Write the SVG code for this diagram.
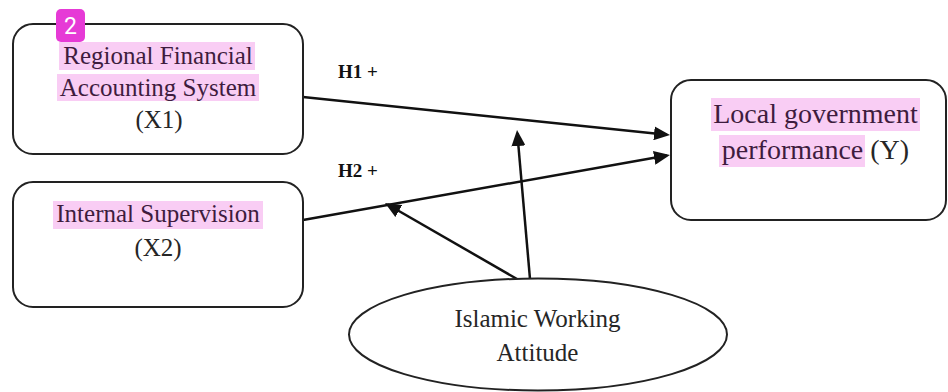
<svg xmlns="http://www.w3.org/2000/svg" width="948" height="392" viewBox="0 0 948 392">
<style>
.box{fill:#fff;stroke:#222;stroke-width:2}
.t{font-family:"Liberation Serif","Times New Roman",serif;font-size:25px;fill:#262626;text-anchor:middle}
.hl{fill:#f9cdf4}
.ht{fill:#3e1c3e}
.lbl{font-family:"Liberation Serif","Times New Roman",serif;font-size:19px;font-weight:bold;fill:#111}
.c{stroke:#111;stroke-width:2.5;fill:none;marker-end:url(#ah)}
</style>
<defs>
<marker id="ah" viewBox="0 0 16 14" refX="13" refY="7" markerWidth="16" markerHeight="14" markerUnits="userSpaceOnUse" orient="auto">
<path d="M0,0 L16,7 L0,14 z" fill="#111"/>
</marker>
</defs>
<rect width="948" height="392" fill="#fff"/>
<g id="connectors">
<line class="c" x1="303" y1="97" x2="667" y2="134.7"/>
<line class="c" x1="303" y1="220" x2="667" y2="155.5"/>
<line class="c" x1="517" y1="279" x2="387.6" y2="204.5"/>
<line class="c" x1="530" y1="279" x2="517.3" y2="133"/>
<text class="lbl" x="338" y="78">H1 +</text>
<text class="lbl" x="338" y="177">H2 +</text>
</g>
<g id="x1">
<rect class="box" x="13" y="24" width="290" height="130" rx="20"/>
<rect class="hl" x="59" y="42" width="196" height="28"/>
<rect class="hl" x="57" y="74" width="202" height="27"/>
<text class="t ht" x="158" y="64">Regional Financial</text>
<text class="t ht" x="158" y="96">Accounting System</text>
<text class="t" x="159" y="128">(X1)</text>
</g>
<g id="x2">
<rect class="box" x="13" y="182" width="290" height="125" rx="20"/>
<rect class="hl" x="53" y="201" width="210" height="28"/>
<text class="t ht" x="158" y="222">Internal Supervision</text>
<text class="t" x="158" y="256">(X2)</text>
</g>
<g id="y">
<rect class="box" x="671" y="80" width="275" height="140" rx="20"/>
<rect class="hl" x="711" y="98" width="209" height="33"/>
<rect class="hl" x="719" y="135" width="146" height="32"/>
<text class="t" x="815.5" y="123" style="font-size:28px"><tspan class="ht">Local government</tspan></text>
<text class="t" x="815.5" y="159" style="font-size:28px"><tspan class="ht">performance</tspan> (Y)</text>
</g>
<g id="moderator">
<ellipse cx="538" cy="334.5" rx="189" ry="56" fill="#fff" stroke="#222" stroke-width="2"/>
<text class="t" x="537.5" y="327">Islamic Working</text>
<text class="t" x="537.5" y="361">Attitude</text>
</g>
<g id="badge">
<rect x="56" y="9" width="29" height="33" rx="5" fill="#e63ad6"/>
<text x="70.5" y="34" font-family="Roboto,'Liberation Sans',sans-serif" font-size="23" fill="#fff" text-anchor="middle">2</text>
</g>
</svg>
